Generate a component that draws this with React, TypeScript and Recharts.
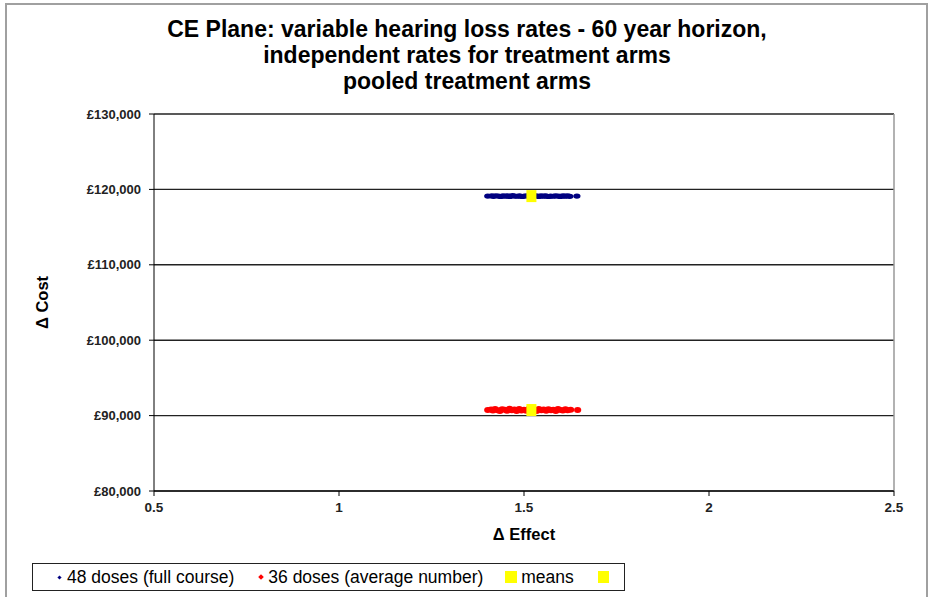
import {
  ScatterChart,
  Scatter,
  XAxis,
  YAxis,
  CartesianGrid,
  ReferenceLine,
} from "recharts";

const titleLines = [
  "CE Plane: variable hearing loss rates - 60 year horizon,",
  "independent rates for treatment arms",
  "pooled treatment arms",
];

const xTicks = [0.5, 1, 1.5, 2, 2.5];
const yTicks = [80000, 90000, 100000, 110000, 120000, 130000];

// 48 doses (full course)
const fullEffect = [
  1.402, 1.413, 1.418, 1.424, 1.431, 1.437, 1.443, 1.45, 1.456, 1.462, 1.469,
  1.475, 1.482, 1.488, 1.495, 1.501, 1.508, 1.514, 1.527, 1.533, 1.54, 1.546,
  1.553, 1.559, 1.566, 1.572, 1.579, 1.585, 1.592, 1.598, 1.605, 1.611, 1.618,
  1.624, 1.643,
];
const fullCost = [
  119110, 119140, 119080, 119160, 119120, 119060, 119150, 119100, 119130,
  119070, 119170, 119110, 119090, 119140, 119060, 119120, 119150, 119080,
  119110, 119160, 119070, 119130, 119100, 119140, 119060, 119120, 119090,
  119150, 119110, 119070, 119140, 119100, 119130, 119080, 119110,
];

// 36 doses (average number)
const avgEffect = [
  1.402, 1.411, 1.416, 1.422, 1.429, 1.435, 1.441, 1.448, 1.454, 1.461, 1.467,
  1.474, 1.48, 1.487, 1.493, 1.5, 1.506, 1.513, 1.527, 1.534, 1.54, 1.547,
  1.553, 1.56, 1.566, 1.573, 1.579, 1.586, 1.592, 1.599, 1.605, 1.612, 1.618,
  1.626, 1.645,
];
const avgCost = [
  90740, 90820, 90660, 90880, 90700, 90600, 90850, 90760, 90640, 90900, 90720,
  90800, 90610, 90870, 90690, 90780, 90630, 90860, 90740, 90620, 90890, 90710,
  90810, 90650, 90840, 90700, 90770, 90600, 90880, 90730, 90660, 90830, 90720,
  90780, 90740,
];

const meanEffect = [1.52, 1.52];
const meanCost = [119110, 90740];

const fullData = fullEffect.map((x, i) => ({ x, y: fullCost[i] }));
const avgData = avgEffect.map((x, i) => ({ x, y: avgCost[i] }));
const meanData = meanEffect.map((x, i) => ({ x, y: meanCost[i] }));

const font = "'Liberation Sans', Arial, sans-serif";

const fmtCost = (v: number) => "£" + v.toLocaleString("en-GB");

// small round-ish marker so the dense cloud reads as a solid band
const dot = (color: string, ry: number) => (p: any) => (
  <ellipse cx={p.cx} cy={p.cy} rx={3.6} ry={ry} fill={color} />
);

export default function App() {
  return (
    <div
      style={{
        position: "absolute",
        left: 0,
        top: 0,
        width: 930,
        height: 597,
        background: "#fff",
        fontFamily: font,
        overflow: "hidden",
      }}
    >
      <div
        style={{
          position: "absolute",
          left: 5,
          top: 3,
          width: 919,
          height: 620,
          border: "2px solid #a0a0a0",
        }}
      />
      <div
        style={{
          position: "absolute",
          left: 0,
          top: 16,
          width: 934,
          textAlign: "center",
          fontWeight: "bold",
          fontSize: 23,
          lineHeight: "26px",
          color: "#000",
        }}
      >
        {titleLines.map((t) => (
          <div key={t}>{t}</div>
        ))}
      </div>
      <div style={{ position: "absolute", left: 0, top: 0 }}>
        <ScatterChart
          width={930}
          height={597}
          margin={{ top: 114, right: 36, bottom: 76, left: 84 }}
        >
          <CartesianGrid vertical={false} stroke="#222" strokeWidth={1.4} />
          <ReferenceLine x={2.5} stroke="#999" strokeWidth={1.5} />
          <XAxis
            type="number"
            dataKey="x"
            domain={[0.5, 2.5]}
            ticks={xTicks}
            allowDataOverflow
            stroke="#000"
            tickSize={5}
            height={30}
            tick={{ fontSize: 13.5, fontWeight: "bold", fill: "#222", fontFamily: font }}
            tickMargin={6}
            label={{
              value: "Δ Effect",
              position: "insideBottom",
              offset: -19,
              style: { fontSize: 16.5, fontWeight: "bold", fill: "#000", fontFamily: font },
            }}
          />
          <YAxis
            type="number"
            dataKey="y"
            domain={[80000, 130000]}
            ticks={yTicks}
            allowDataOverflow
            stroke="#000"
            tickSize={5}
            width={70}
            tickFormatter={fmtCost}
            tick={{ fontSize: 13, fontWeight: "bold", fill: "#222", fontFamily: font }}
            tickMargin={8}
            label={{
              value: "Δ Cost",
              angle: -90,
              position: "insideLeft",
              offset: -42,
              style: { fontSize: 16.5, fontWeight: "bold", fill: "#000", fontFamily: font, textAnchor: "middle" },
            }}
          />
          <Scatter
            name="48 doses (full course)"
            data={fullData}
            fill="#000080"
            shape={dot("#000080", 2.6)}
            isAnimationActive={false}
          />
          <Scatter
            name="36 doses (average number)"
            data={avgData}
            fill="#ff0000"
            shape={dot("#ff0000", 3)}
            isAnimationActive={false}
          />
          <Scatter
            name="means"
            data={meanData}
            fill="#ffff00"
            shape={(p: any) => (
              <rect x={p.cx - 5} y={p.cy - 6} width={10} height={12} fill="#ffff00" />
            )}
            isAnimationActive={false}
          />
        </ScatterChart>
      </div>
      <div
        style={{
          position: "absolute",
          left: 32,
          top: 563,
          width: 593,
          height: 28,
          border: "1.5px solid #222",
          display: "flex",
          alignItems: "center",
          fontSize: 17.5,
          color: "#000",
          boxSizing: "border-box",
          whiteSpace: "nowrap",
        }}
      >
        <span style={{ marginLeft: 25, display: "flex", alignItems: "center" }}>
          <span style={{ width: 3, height: 3, background: "#000080", transform: "rotate(45deg)", marginRight: 6 }} />
          48 doses (full course)
        </span>
        <span style={{ marginLeft: 25, display: "flex", alignItems: "center" }}>
          <span style={{ width: 4, height: 4, background: "#ff0000", transform: "rotate(45deg)", marginRight: 5 }} />
          36 doses (average number)
        </span>
        <span style={{ marginLeft: 22, display: "flex", alignItems: "center" }}>
          <span style={{ width: 12, height: 12, background: "#ffff00", marginRight: 4 }} />
          means
        </span>
        <span style={{ marginLeft: 24, width: 11, height: 12, background: "#ffff00" }} />
      </div>
    </div>
  );
}
